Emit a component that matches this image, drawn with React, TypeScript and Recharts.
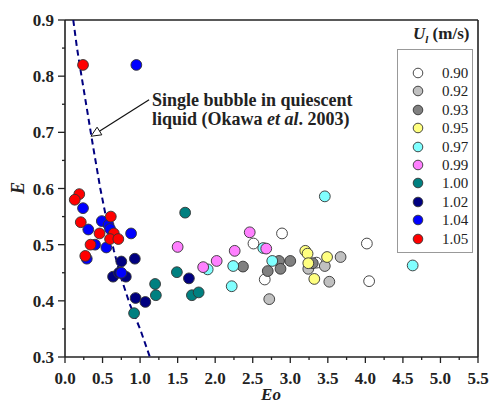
import React from "react";
import {
  ScatterChart,
  Scatter,
  XAxis,
  YAxis,
  ReferenceLine,
  ReferenceDot,
} from "recharts";

// Eo / E pairs, one list per liquid velocity U_l (m/s)
const s090: [number, number][] = [[2.51, 0.502], [2.89, 0.52], [2.66, 0.438], [4.02, 0.502], [4.05, 0.435], [3.35, 0.468]];
const s092: [number, number][] = [[2.72, 0.403], [3.24, 0.457], [3.46, 0.462], [3.52, 0.434], [3.67, 0.478]];
const s093: [number, number][] = [[2.37, 0.461], [2.7, 0.453], [2.85, 0.471], [2.87, 0.457], [3.0, 0.471], [3.3, 0.467]];
const s095: [number, number][] = [[3.2, 0.489], [3.23, 0.484], [3.24, 0.467], [3.49, 0.478], [3.32, 0.439]];
const s097: [number, number][] = [[1.9, 0.456], [2.24, 0.462], [2.22, 0.426], [2.64, 0.494], [2.76, 0.471], [3.46, 0.586], [4.63, 0.463]];
const s099: [number, number][] = [[1.5, 0.496], [1.84, 0.46], [2.02, 0.471], [2.26, 0.489], [2.46, 0.522], [2.68, 0.493]];
const s100: [number, number][] = [[0.92, 0.378], [1.2, 0.43], [1.21, 0.41], [1.49, 0.451], [1.6, 0.557], [1.69, 0.41], [1.78, 0.415]];
const s102: [number, number][] = [[0.75, 0.47], [0.93, 0.475], [0.64, 0.443], [0.81, 0.443], [0.72, 0.45], [0.94, 0.405], [1.07, 0.398], [1.65, 0.44]];
const s104: [number, number][] = [[0.95, 0.82], [0.24, 0.565], [0.31, 0.527], [0.49, 0.542], [0.58, 0.535], [0.6, 0.528], [0.88, 0.52], [0.55, 0.495], [0.4, 0.5], [0.29, 0.475], [0.75, 0.45]];
const s105: [number, number][] = [[0.24, 0.82], [0.19, 0.59], [0.13, 0.58], [0.21, 0.54], [0.61, 0.55], [0.46, 0.52], [0.65, 0.52], [0.6, 0.51], [0.71, 0.51], [0.34, 0.5], [0.27, 0.48]];

const labels = ["0.90", "0.92", "0.93", "0.95", "0.97", "0.99", "1.00", "1.02", "1.04", "1.05"];
const colors = ["#ffffff", "#c0c0c0", "#808080", "#ffff80", "#80ffff", "#ff80ff", "#008080", "#000080", "#0000ff", "#ff0000"];
const groups = [s090, s092, s093, s095, s097, s099, s100, s102, s104, s105];

// single bubble in quiescent liquid (Okawa et al. 2003)
const okawaEo = [0.11, 0.16, 0.22, 0.3, 0.38, 0.47, 0.56, 0.65, 0.75, 0.86, 1.0, 1.13];
const okawaE = [0.9, 0.85, 0.8, 0.735, 0.67, 0.6, 0.54, 0.49, 0.44, 0.395, 0.35, 0.3];

const xTicks = [0, 0.25, 0.5, 0.75, 1, 1.25, 1.5, 1.75, 2, 2.25, 2.5, 2.75, 3, 3.25, 3.5, 3.75, 4, 4.25, 4.5, 4.75, 5, 5.25, 5.5];
const yTicks = [0.3, 0.35, 0.4, 0.45, 0.5, 0.55, 0.6, 0.65, 0.7, 0.75, 0.8, 0.85, 0.9];

const FONT = "'Liberation Serif', 'Times New Roman', serif";
const AXIS = "#222";

const isMajor = (v: number, step: number) => Math.abs(v / step - Math.round(v / step)) < 1e-6;

const XTick = (props: any) => {
  const { x, y, payload } = props;
  const major = isMajor(payload.value, 0.5);
  return (
    <g>
      <line x1={x} y1={y} x2={x} y2={y + (major ? 6 : 3)} stroke={AXIS} strokeWidth={1.3} />
      {major && (
        <text x={x} y={y + 27} textAnchor="middle" fontFamily={FONT} fontWeight="bold" fontSize={17} fill="#222">
          {payload.value.toFixed(1)}
        </text>
      )}
    </g>
  );
};

const YTick = (props: any) => {
  const { x, y, payload } = props;
  const major = isMajor(payload.value, 0.1);
  return (
    <g>
      <line x1={x} y1={y} x2={x - (major ? 7 : 3)} y2={y} stroke={AXIS} strokeWidth={1.3} />
      {major && (
        <text x={x - 11} y={y + 6} textAnchor="end" fontFamily={FONT} fontWeight="bold" fontSize={17} fill="#222">
          {payload.value.toFixed(1)}
        </text>
      )}
    </g>
  );
};

const Dot = (fill: string) => (props: any) => (
  <circle cx={props.cx} cy={props.cy} r={5.4} fill={fill} stroke="#333" strokeWidth={0.9} />
);

const ArrowHead = (props: any) => {
  const { cx, cy } = props;
  const ux = -0.849, uy = 0.527;
  const bx = cx - 10 * ux, by = cy - 10 * uy;
  const px = -uy * 4.5, py = ux * 4.5;
  return (
    <polygon
      points={`${cx},${cy} ${bx + px},${by + py} ${bx - px},${by - py}`}
      fill="#fff"
      stroke="#111"
      strokeWidth={1}
    />
  );
};

const Legend = () => (
  <div style={{ position: "absolute", left: 380, top: 20, width: 98, fontFamily: FONT }}>
    <div style={{ position: "absolute", left: 33, top: 4, fontSize: 17, fontWeight: "bold", whiteSpace: "nowrap", color: "#222" }}>
      <i>U</i>
      <sub style={{ fontSize: 11, fontStyle: "italic" }}>l</sub> (m/s)
    </div>
    <div
      style={{
        position: "absolute",
        left: 17,
        top: 29,
        width: 76,
        height: 204,
        border: "1px solid #999",
        boxSizing: "border-box",
      }}
    >
      {labels.map((l, i) => (
        <div key={l} style={{ position: "absolute", left: 0, top: 14 + i * 18.4, height: 18, width: 76 }}>
          <svg width={20} height={18} style={{ position: "absolute", left: 10, top: 0 }}>
            <circle cx={10} cy={9} r={4.8} fill={colors[i]} stroke="#333" strokeWidth={0.9} />
          </svg>
          <span style={{ position: "absolute", left: 44, top: 0, fontSize: 15, lineHeight: "18px", color: "#222" }}>{l}</span>
        </div>
      ))}
    </div>
  </div>
);

export default function App() {
  const curve = okawaEo.map((eo, i) => ({ x: eo, y: okawaE[i] }));
  return (
    <div style={{ position: "absolute", left: 0, top: 0, width: 493, height: 403, background: "#fff", overflow: "hidden" }}>
      <ScatterChart width={493} height={403} margin={{ top: 20, right: 15, bottom: 0, left: 0 }}>
        <XAxis
          type="number"
          dataKey="x"
          domain={[0, 5.5]}
          ticks={xTicks}
          interval={0}
          tickSize={0}
          tickMargin={0}
          tick={<XTick />}
          tickLine={false}
          height={46}
          axisLine={{ stroke: AXIS, strokeWidth: 1.6 }}
          allowDataOverflow
        />
        <YAxis
          type="number"
          dataKey="y"
          domain={[0.3, 0.9]}
          ticks={yTicks}
          interval={0}
          tickSize={0}
          tickMargin={0}
          tick={<YTick />}
          tickLine={false}
          width={65}
          axisLine={{ stroke: AXIS, strokeWidth: 1.6 }}
          allowDataOverflow
        />
        <ReferenceLine y={0.9} stroke={AXIS} strokeWidth={1.6} />
        <ReferenceLine x={5.5} stroke={AXIS} strokeWidth={1.6} />
        <Scatter
          name="Okawa"
          data={curve}
          line={{ stroke: "#000080", strokeWidth: 2, strokeDasharray: "6 4" }}
          lineType="joint"
          shape={() => <g />}
          isAnimationActive={false}
        />
        {groups.map((g, i) => (
          <Scatter
            key={labels[i]}
            name={labels[i]}
            data={g.map(([x, y]) => ({ x, y }))}
            shape={Dot(colors[i])}
            isAnimationActive={false}
          />
        ))}
        <ReferenceLine
          segment={[{ x: 1.12, y: 0.758 }, { x: 0.4, y: 0.697 }]}
          stroke="#111"
          strokeWidth={1.2}
        />
        <ReferenceDot x={0.346} y={0.693} r={0} shape={<ArrowHead />} />
        <text x={152} y={106} fontFamily={FONT} fontWeight="bold" fontSize={18} fill="#222">
          Single bubble in quiescent
        </text>
        <text x={152} y={125} fontFamily={FONT} fontWeight="bold" fontSize={18} fill="#222">
          liquid (Okawa <tspan fontStyle="italic">et al</tspan>. 2003)
        </text>
        <text x={271} y={400} textAnchor="middle" fontFamily={FONT} fontWeight="bold" fontStyle="italic" fontSize={17} fill="#222">
          Eo
        </text>
        <text x={24} y={188} transform="rotate(-90 24 188)" textAnchor="middle" fontFamily={FONT} fontWeight="bold" fontStyle="italic" fontSize={18} fill="#222">
          E
        </text>
      </ScatterChart>
      <Legend />
    </div>
  );
}
